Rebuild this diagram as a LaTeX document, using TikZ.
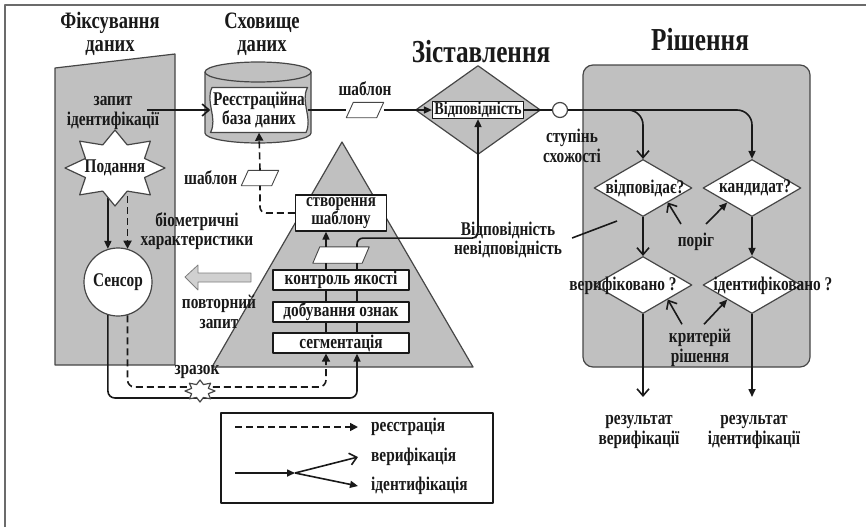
\documentclass[tikz,border=0pt]{standalone}
\usepackage{fontspec}
\setmainfont{Liberation Serif}[FakeStretch=0.79]
\usetikzlibrary{arrows.meta, positioning, shapes.geometric, calc}

\definecolor{panel}{RGB}{192,192,192}
\definecolor{edge}{RGB}{70,70,70}
\definecolor{ink}{RGB}{25,25,25}
\definecolor{pale}{RGB}{208,208,208}

\newcommand{\lblf}{\fontsize{19.4}{19.5}\selectfont\bfseries}
\newcommand{\ttlf}{\fontsize{23.5}{23}\selectfont\bfseries}
\newcommand{\bigf}{\fontsize{32}{32}\selectfont\bfseries}
% parallelogram drawn on a named (empty) node
\newcommand{\drawtmpl}[1]{\draw[line width=0.9pt, draw=edge, fill=white] (#1.south west) -- ([xshift=-7pt]#1.south east) -- (#1.north east) -- ([xshift=7pt]#1.north west) -- cycle;}

\begin{document}
\begin{tikzpicture}[x=1pt, y=-1pt, line join=round, color=ink,
  lbl/.style={font=\lblf, align=center, inner sep=0pt},
  ttl/.style={font=\ttlf, align=center, inner sep=0pt},
  bigttl/.style={font=\bigf, inner sep=0pt},
  wbox/.style={draw, fill=white, line width=1.2pt, inner sep=0pt, font=\lblf, align=center},
  tmpl/.style={inner sep=0pt, minimum width=37pt, minimum height=15pt},
  panel/.style={fill=panel, draw=edge, line width=1.2pt},
  decide/.style={diamond, draw=edge, fill=white, line width=1.2pt, inner sep=0pt, minimum width=98pt, minimum height=57pt},
  flow/.style={line width=1.6pt},
  dline/.style={flow, dash pattern=on 7pt off 4pt},
  enrol/.style={dline, -{Triangle[length=8pt,width=8pt]}},
  verif/.style={flow, -{Straight Barb[length=7pt,width=12pt]}},
  ident/.style={flow, -{Triangle[length=8pt,width=7pt]}}]
\useasboundingbox (0,0) rectangle (866,527);

% frame
\draw[line width=1.8pt, edge!80] (5,527) -- (5,5) -- (866,5);

% data capture
\draw[panel] (55,68) -- (175,54) -- (175,365) -- (55,365) -- cycle;
\node[ttl] (capttl) at (110,34) {Фіксування\\даних};
\node[lbl] (req) at (113,113) {запит\\ідентифікації};
\node[circle, draw=edge, fill=white, line width=1.2pt, minimum size=68pt, inner sep=0pt, font=\lblf] (sensor) at (118,282) {Сенсор};
\coordinate (subbot) at (115,185);
\draw[ident] (subbot -| sensor.107) -- (sensor.107);
\draw[enrol] (subbot -| sensor.74) -- (sensor.74);
\draw[line width=1.2pt, draw=edge, fill=white] (115,130) \foreach \k [evaluate=\k as \rx using {50-18*mod(\k,2)}, evaluate=\k as \ry using {38-13*mod(\k,2)}] in {1,...,15} { -- ({115+\rx*sin(\k*22.5)}, {168-\ry*cos(\k*22.5)}) } -- cycle;
\node[lbl] (submit) at (115,168) {Подання};

% repeat request arrow
\draw[fill=pale, draw=edge!70, line width=0.8pt] (185,277) -- (198,265) -- (198,273) -- (251,273) -- (251,282) -- (198,282) -- (198,290) -- cycle;

% data storage
\node[ttl] (stttl) at (262,34) {Сховище\\даних};
\draw[panel] (205,72) -- (205,133) arc[start angle=180, end angle=0, x radius=53, y radius=10] -- (311,72) arc[start angle=0, end angle=-180, x radius=53, y radius=10] -- cycle;
\draw[draw=edge, line width=1.2pt] (205,72) arc[start angle=180, end angle=0, x radius=53, y radius=10];
\draw[line width=1.2pt, draw=edge, fill=white] (212,87.5) -- (307.5,87.5) .. controls (300,102) and (313,118) .. (306,132.5) -- (210.5,132.5) .. controls (218,118) and (205,102) .. cycle;
\node[lbl, minimum width=97pt, minimum height=45pt] (regdb) at (259,110) {Реєстраційна\\база даних};
\node[tmpl] (tmpl1) at (260,178) {};
\drawtmpl{tmpl1}
\node[lbl, left=4pt of tmpl1] (tmpl1lbl) {шаблон};

% signal processing
\draw[panel] (342,142) -- (473,367) -- (212,367) -- cycle;
\node[lbl] (bio) at (197,231) {біометричні\\характеристики};
\node[lbl] (resub) at (219,312) {повторний\\запит};
\node[wbox, minimum width=91pt, minimum height=36pt, font=\fontsize{19}{18}\selectfont\bfseries] (mktmpl) at (341,213) {створення\\шаблону};
\node[tmpl, minimum width=56pt, minimum height=16pt] (tmpl3) at (341,255) {};
\drawtmpl{tmpl3}
\node[wbox, minimum width=136pt, minimum height=20pt] (qual) at (341,280) {контроль якості};
\node[wbox, minimum width=136pt, minimum height=20pt] (feat) at (341,312) {добування ознак};
\node[wbox, minimum width=136pt, minimum height=20pt] (seg) at (341,343) {сегментація};
\foreach \lo/\hi in {seg/feat, feat/qual, qual/tmpl3} {
  \draw[flow] ($(\lo.north)+(-15,0)$) -- ($(\hi.south)+(-15,0)$);
  \draw[flow] ($(\lo.north)+(16,0)$) -- ($(\hi.south)+(16,0)$);
}
\draw[ident] ($(tmpl3.north)+(-15,0)$) -- ($(mktmpl.south)+(-15,0)$);
\draw[dline, rounded corners=6pt] (mktmpl.west) -| (tmpl1.south);
\draw[enrol] (tmpl1.north) -- (regdb.south);

% sample paths
\coordinate (segL) at ($(seg.south)+(-15,0)$);
\coordinate (segR) at ($(seg.south)+(16,0)$);
\coordinate (lowS) at (0,398);
\coordinate (lowD) at (0,387);
\draw[ident, rounded corners=7pt] (sensor.253) |- (lowS -| segR) -- (segR);
\draw[enrol, rounded corners=7pt] (sensor.286) |- (lowD -| segL) -- (segL);
\draw[line width=1.2pt, draw=edge, fill=white] (200,380) \foreach \k [evaluate=\k as \rx using {15-6*mod(\k,2)}, evaluate=\k as \ry using {11-4*mod(\k,2)}] in {1,...,15} { -- ({200+\rx*sin(\k*22.5)}, {391-\ry*cos(\k*22.5)}) } -- cycle;
\node[lbl] (sample) at (197,372) {зразок};

% matching
\node[bigttl] (mttl) at (481,52) {Зіставлення};
\node[diamond, panel, minimum width=125pt, minimum height=89pt, inner sep=0pt] (zdiam) at (478,110) {};
\node[wbox, minimum width=91pt, minimum height=17pt, font=\fontsize{18}{18}\selectfont\bfseries] (matchbox) at (478,110) {Відповідність};
\node[tmpl] (tmpl2) at (365,110) {};
\drawtmpl{tmpl2}
\node[lbl, above=6pt of tmpl2] (tmpl2lbl) {шаблон};
\coordinate (reqend) at ([xshift=-12pt]req.east);
\draw[verif] (reqend |- regdb.west) -- (regdb.west);
\draw[flow] (regdb.east) -- (tmpl2.west);
\draw[ident] (tmpl2.east) -- (matchbox.west);
\draw[ident, rounded corners=6pt] ($(tmpl3.north)+(16,0)$) |- ($(matchbox.south)+(0,119)$) -- (matchbox.south);
\node[lbl] (mnm) at (508,240) {Відповідність\\невідповідність};

% decision
\node[bigttl] (dttl) at (700,40) {Рішення};
\node[panel, rounded corners=10pt, minimum width=227pt, minimum height=302pt] (decpanel) at (696.5,216) {};
\node[circle, draw=edge, fill=white, line width=1.2pt, minimum size=15pt, inner sep=0pt] (simdeg) at (560,110) {};
\draw[flow] (matchbox.east) -- (simdeg.west);
\node[lbl] (simlbl) at (572,146) {ступінь\\схожості};
\node[decide] (qmatch) at (643,188) {};
\node[decide] (qcand) at (752,188) {};
\node[decide] (qver) at (643,285) {};
\node[decide] (qid) at (752,285) {};
\node[lbl] at (645,188) {відповідає?};
\node[lbl] at (755,188) {кандидат?};
\node[lbl] at (623,286) {верифіковано ?};
\node[lbl] at (773,286) {ідентифіковано ?};
\draw[verif, rounded corners=15pt] (simdeg.east) -| (qmatch.north);
\draw[ident, rounded corners=15pt] (simdeg.east) -| (qcand.north);
\draw[verif] (qmatch.south) -- (qver.north);
\draw[ident] (qcand.south) -- (qid.north);
\node[lbl] (thr) at (696,242) {поріг};
\draw[verif] ($(thr.north)+(-15,-9)$) -- (qmatch.south east);
\draw[ident] ($(thr.north)+(10,-9)$) -- (qcand.south west);
\node[lbl] (crit) at (700,348) {критерій\\рішення};
\draw[verif] ($(crit.north)+(-18,-5)$) -- (qver.south east);
\draw[ident] ($(crit.north)+(4,-5)$) -- (qid.south west);
\coordinate (verout) at (643,397);
\coordinate (idout) at (752,397);
\draw[verif] (qver.south) -- (verout);
\draw[ident] (qid.south) -- (idout);
\node[lbl] (verres) at (639,432) {результат\\верифікації};
\node[lbl] (idres) at (754,432) {результат\\ідентифікації};
\coordinate (mnmtip) at (617,221);
\draw[flow] ([xshift=10pt, yshift=2pt]mnm.east) -- (mnmtip);

% legend
\node[draw=ink, line width=1.6pt, minimum width=272pt, minimum height=90pt] (legend) at (357,458) {};
\node[lbl, anchor=west] (lgreg) at (371,427) {реєстрація};
\node[lbl, anchor=west] (lgver) at (371,457) {верифікація};
\node[lbl, anchor=west] (lgid) at (371,486) {ідентифікація};
\coordinate (lgs1) at (235,427);
\coordinate (lgs2) at (235,473);
\coordinate (lgfork) at (295,473);
\draw[enrol] (lgs1) -- ([xshift=-13pt]lgreg.west);
\draw[ident] (lgs2) -- (lgfork);
\draw[verif] (lgfork) -- ([xshift=-13pt]lgver.west);
\draw[ident] (lgfork) -- ([xshift=-13pt]lgid.west);

\end{tikzpicture}
\end{document}
